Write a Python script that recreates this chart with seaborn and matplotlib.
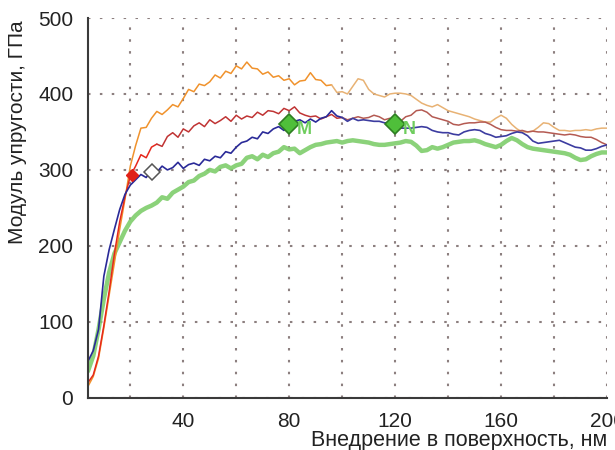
import numpy as np
import pandas as pd
import matplotlib
matplotlib.use("Agg")
import matplotlib.pyplot as plt
import matplotlib.ticker as mticker
import seaborn as sns

# indentation depth grid, nm (step 2 nm)
depth = np.arange(4, 201, 2)

# elastic modulus, GPa
orange = [15, 28, 52, 92, 135, 178, 222, 262, 305, 332,
          355, 356, 368, 377, 373, 379, 386, 383, 394, 406,
          403, 413, 411, 416, 425, 421, 430, 427, 437, 433,
          442, 434, 433, 426, 429, 422, 424, 418, 420, 412,
          417, 418, 428, 419, 418, 411, 412, 402, 403, 400,
          410, 420, 418, 406, 400, 398, 396, 400, 401, 401,
          400, 398, 393, 388, 385, 383, 386, 382, 378, 376,
          374, 372, 370, 367, 365, 363, 363, 368, 372, 368,
          360, 354, 350, 350, 351, 356, 362, 361, 356, 352,
          352, 351, 352, 352, 353, 352, 354, 355, 355]
red = [20, 30, 55, 95, 140, 190, 232, 265, 292, 305,
       320, 316, 330, 334, 331, 344, 349, 343, 354, 350,
       358, 362, 357, 366, 361, 365, 370, 364, 372, 367,
       371, 369, 376, 372, 378, 377, 374, 381, 378, 383,
       375, 372, 370, 371, 367, 370, 373, 368, 369, 366,
       368, 370, 368, 369, 372, 370, 366, 368, 362, 364,
       370, 372, 378, 379, 376, 370, 368, 366, 364, 360,
       359, 361, 362, 362, 363, 363, 360, 356, 353, 352,
       352, 351, 352, 350, 351, 350, 350, 349, 348, 347,
       346, 347, 346, 344, 343, 343, 340, 336, 333]
blue = [48, 62, 90, 160, 195, 222, 248, 268, 280, 287,
        294, 290, 300, 297, 305, 300, 303, 310, 302, 307,
        309, 306, 314, 312, 318, 316, 324, 322, 330, 336,
        338, 343, 341, 350, 348, 354, 357, 352, 360, 364,
        366, 362, 367, 363, 368, 370, 378, 371, 369, 364,
        368, 365, 366, 365, 364, 364, 362, 362, 360, 355,
        355, 355, 356, 357, 356, 352, 350, 349, 349, 347,
        346, 350, 352, 353, 352, 348, 346, 343, 344, 345,
        348, 350, 349, 345, 338, 335, 336, 337, 338, 339,
        336, 333, 330, 329, 326, 326, 328, 331, 333]
green = [35, 55, 90, 130, 165, 190, 205, 220, 232, 240,
         246, 250, 253, 257, 264, 262, 270, 274, 278, 284,
         286, 292, 295, 300, 298, 304, 306, 302, 306, 308,
         316, 318, 314, 320, 317, 322, 324, 330, 327, 328,
         322, 326, 330, 333, 334, 336, 337, 338, 336, 338,
         339, 338, 337, 336, 334, 333, 333, 334, 335, 336,
         338, 337, 332, 325, 326, 330, 328, 330, 333, 336,
         337, 338, 338, 339, 337, 334, 332, 330, 333, 338,
         342, 339, 334, 330, 328, 327, 326, 325, 324, 323,
         322, 320, 316, 313, 314, 318, 321, 323, 323]

# marked points
point_x = [80, 120]
point_y = [360, 360]
point_labels = ["M", "N"]
open_point = (28, 297)
red_point = (20.5, 293)

df = pd.DataFrame({"depth": depth, "orange": orange, "red": red,
                   "blue": blue, "green": green})

sns.set_style("white")
plt.rcParams["font.family"] = ["Liberation Sans", "DejaVu Sans"]

fig, ax = plt.subplots(figsize=(6.15, 4.5), dpi=100)
fig.subplots_adjust(left=0.143, right=0.987, bottom=0.116, top=0.96)

# green first, it is the thick pale one underneath
sns.lineplot(data=df, x="depth", y="green", color="#7fcd6c", lw=3.2,
             alpha=0.9, ax=ax, legend=False)

# colours fade along each curve, so draw it in pieces
early = df[df.depth <= 30]
mid = df[(df.depth >= 30) & (df.depth <= 100)]
late = df[df.depth >= 100]

sns.lineplot(data=df[df.depth <= 96], x="depth", y="orange", color="#f0922c", lw=1.1, ax=ax)
sns.lineplot(data=df[df.depth >= 96], x="depth", y="orange", color="#e8b274", lw=1.1, ax=ax)

sns.lineplot(data=early, x="depth", y="red", color="#e6281c", lw=1.1, ax=ax)
sns.lineplot(data=mid, x="depth", y="red", color="#c03434", lw=1.1, ax=ax)
sns.lineplot(data=late, x="depth", y="red", color="#b45a52", lw=1.1, ax=ax)

sns.lineplot(data=df[df.depth <= 100], x="depth", y="blue", color="#2a2a98", lw=1.2, ax=ax)
sns.lineplot(data=late, x="depth", y="blue", color="#3c3ca0", lw=1.2, ax=ax)

# markers
ax.plot(point_x, point_y, ls="none", marker="D", ms=10, mfc="#4fbf3a",
        mec="#2e7d22", mew=1.2, zorder=5)
for px_, py_, lab in zip(point_x, point_y, point_labels):
    ax.text(px_ + 3, py_ - 7, lab, color="#6fcd5e", fontsize=13,
            fontweight="bold", ha="left", va="center", zorder=5)
ax.plot(*open_point, marker="D", ms=8, mfc="white", mec="#555555", mew=1.1, zorder=5)
ax.plot(*red_point, marker="D", ms=6, mfc="#e02018", mec="#e02018", zorder=5)

ax.set_xlim(4, 200)
ax.set_ylim(0, 500)

ax.xaxis.set_major_locator(mticker.MultipleLocator(20))
ax.xaxis.set_minor_locator(mticker.MultipleLocator(10))
ax.xaxis.set_major_formatter(mticker.FuncFormatter(
    lambda v, p: f"{v:.0f}" if v % 40 == 0 else ""))
ax.yaxis.set_major_locator(mticker.MultipleLocator(100))
ax.yaxis.set_minor_locator(mticker.MultipleLocator(50))

ax.grid(True, which="major", linestyle=(0, (1.2, 4.5)), color="#8c7f7f", lw=1.5)
ax.tick_params(which="both", direction="inout", color="#3a3a3a", width=1.3,
               labelsize=15, labelcolor="#222222", pad=6)
ax.tick_params(which="major", length=9)
ax.tick_params(which="minor", length=8)

for s in ["top", "right"]:
    ax.spines[s].set_visible(False)
for s in ["left", "bottom"]:
    ax.spines[s].set_color("#3a3a3a")
    ax.spines[s].set_linewidth(1.5)

ax.set_xlabel("Внедрение в поверхность, нм", fontsize=15.5, color="#222222", loc="right")
ax.xaxis.set_label_coords(1.0, -0.086)
ax.set_ylabel("Модуль упругости, ГПа", fontsize=15, color="#222222")
ax.yaxis.set_label_coords(-0.118, 0.7)

plt.savefig("out.png", dpi=100)
